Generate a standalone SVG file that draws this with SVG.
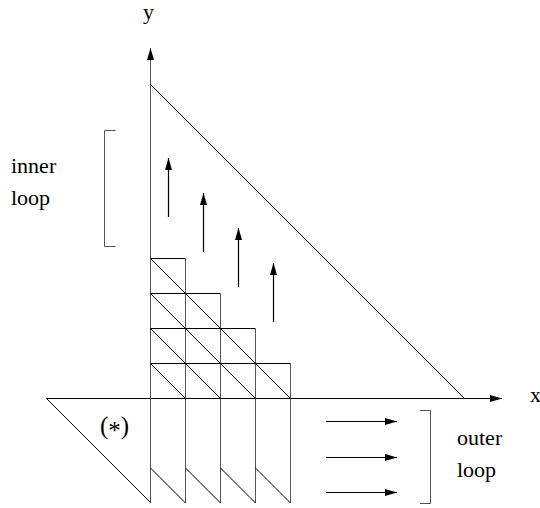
<svg xmlns="http://www.w3.org/2000/svg" width="540" height="508" viewBox="0 0 540 508">
<defs>
<marker id="ah" markerUnits="userSpaceOnUse" markerWidth="12" markerHeight="8" refX="12" refY="4" orient="auto">
<path d="M0,0.5 L12,4 L0,7.5 z" fill="#000"/>
</marker>
<style>
.ln{stroke:#000;stroke-width:1;fill:none}
.vl{stroke:#555;stroke-width:1;fill:none}
.ar{stroke:#000;stroke-width:1.2;fill:none;marker-end:url(#ah)}
.t{font-family:"Liberation Serif","Times New Roman",serif;font-size:22px;fill:#000}
</style>
</defs>
<rect width="540" height="508" fill="#fff"/>
<g id="connectors">
<g id="axes">
<line class="vl" x1="150.5" y1="503" x2="150.5" y2="48" marker-end="url(#ah)"/>
<line class="ln" x1="46.5" y1="398.5" x2="502" y2="398.5" marker-end="url(#ah)"/>
<line class="ln" x1="150.5" y1="84.5" x2="464.5" y2="398.5"/>
<line class="ln" x1="46.5" y1="398.5" x2="150.5" y2="502.5"/>
</g>
<g id="grid">
<path class="ln" d="M150.5,258.5H185.5M150.5,293.5H220.5M150.5,328.5H255.5M150.5,363.5H290.5"/>
<path class="vl" d="M185.5,258.5V503M220.5,293.5V503M255.5,328.5V503M290.5,363.5V503"/>
<path class="ln" d="M150.5,258.5L290.5,398.5M150.5,293.5L255.5,398.5M150.5,328.5L220.5,398.5M150.5,363.5L185.5,398.5"/>
<path class="ln" d="M150.5,468L185.5,503M185.5,468L220.5,503M220.5,468L255.5,503M255.5,468L290.5,503"/>
</g>
<g id="inner-arrows">
<line class="ar" x1="168.5" y1="217" x2="168.5" y2="158"/>
<line class="ar" x1="203.5" y1="252" x2="203.5" y2="193"/>
<line class="ar" x1="238.5" y1="287" x2="238.5" y2="228"/>
<line class="ar" x1="273.5" y1="322" x2="273.5" y2="263"/>
</g>
<g id="outer-arrows">
<line class="ar" x1="326" y1="421.5" x2="397" y2="421.5"/>
<line class="ar" x1="326" y1="457.5" x2="397" y2="457.5"/>
<line class="ar" x1="326" y1="492.5" x2="397" y2="492.5"/>
</g>
<g id="brackets">
<path class="vl" d="M115.5,130.5H104.5V246.5H115.5"/>
<path class="vl" d="M420,410.5H430.5V503.5H420"/>
</g>
</g>
<g id="labels">
<text class="t" x="143" y="19">y</text>
<text class="t" x="530" y="402">x</text>
<text class="t" x="11" y="173">inner</text>
<text class="t" x="11" y="205">loop</text>
<text class="t" x="457" y="445">outer</text>
<text class="t" x="457" y="477">loop</text>
<text class="t" x="100" y="434" style="font-size:25px">(<tspan dy="5">*</tspan><tspan dy="-5">)</tspan></text>
</g>
</svg>
